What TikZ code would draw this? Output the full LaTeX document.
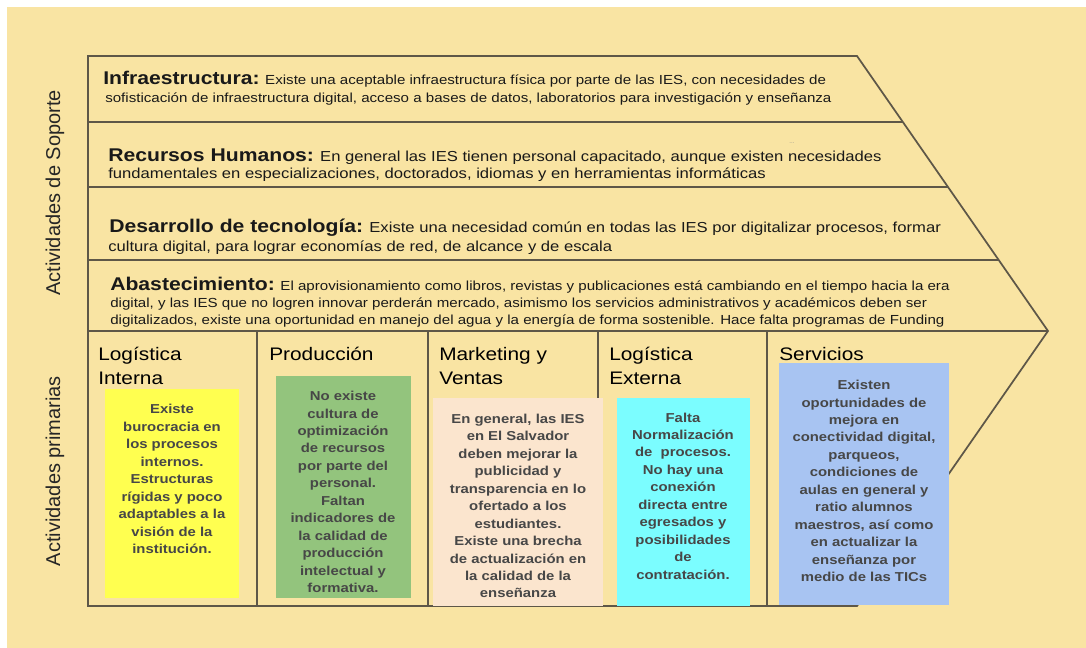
\documentclass[tikz,border=0pt]{standalone}
\usepackage{fontspec}
\setmainfont{Liberation Sans}[FakeStretch=1.15]
\newfontfamily\plainsans{Liberation Sans}
\definecolor{bgyellow}{HTML}{F9E4A3}
\definecolor{linec}{HTML}{5E5748}
\definecolor{boxtext}{HTML}{474747}
\definecolor{noteyellow}{HTML}{FFFF50}
\definecolor{notegreen}{HTML}{93C47D}
\definecolor{notepeach}{HTML}{FBE5CE}
\definecolor{notecyan}{HTML}{7BFDFF}
\definecolor{noteblue}{HTML}{A8C4F2}
\newcommand\rowtitle[1]{{\bfseries\fontsize{13.8}{16}\selectfont #1}}
\tikzset{
  outline/.style={draw=linec, line width=1.3pt, line join=miter},
  rowtext/.style={anchor=base west, inner sep=0pt, text=black!90},
  rowA/.style={rowtext, font=\fontsize{9.85}{11}\selectfont},
  rowB/.style={rowtext, font=\fontsize{10.85}{12}\selectfont},
  rowC/.style={rowtext, font=\fontsize{10.85}{12}\selectfont},
  rowD/.style={rowtext, font=\fontsize{9.85}{11}\selectfont},
  colhead/.style={anchor=base west, inner sep=0pt, text=black, font=\fontsize{13.6}{16}\selectfont},
  sidelabel/.style={rotate=90, inner sep=0pt, text=black!85, font=\plainsans\fontsize{15}{18}\selectfont},
  notetext/.style={inner sep=0pt, align=center, text=boxtext, font=\bfseries\fontsize{9.7}{13.1}\selectfont}
}
\begin{document}
\begin{tikzpicture}[x=0.75pt,y=-0.75pt]
\useasboundingbox (0,0) rectangle (1086,648);
\fill[white] (0,0) rectangle (1086,648);
\fill[bgyellow] (7,7) rectangle (1086,648);

% chevron outline
\draw[outline] (88,56) -- (857,56) -- (1048,331) -- (857,606) -- (88,606) -- cycle;
\draw[outline] (88,122) -- (903,122);
\draw[outline] (88,187) -- (948,187);
\draw[outline] (88,260) -- (999,260);
\draw[outline] (88,331) -- (1048,331);
\foreach \xx in {257,428,598,767} \draw[outline] (\xx,331) -- (\xx,606);

% support rows
\node[rowA] (inf1) at (103,85) {\rowtitle{Infraestructura:} Existe una aceptable infraestructura física por parte de las IES, con necesidades de};
\node[rowA] (inf2) at (105,103) {sofisticación de infraestructura digital, acceso a bases de datos, laboratorios para investigación y enseñanza};

\node[rowB] (rh1) at (108,162) {\rowtitle{Recursos Humanos:} En general las IES tienen personal capacitado, aunque existen necesidades};
\node[rowB] (rh2) at (108,179) {fundamentales en especializaciones, doctorados, idiomas y en herramientas informáticas};
\node[inner sep=0pt, text=black!45, font=\fontsize{4}{5}\selectfont] (dots) at (792,143) {...};

\node[rowC] (dt1) at (109,233) {\rowtitle{Desarrollo de tecnología:} Existe una necesidad común en todas las IES por digitalizar procesos, formar};
\node[rowC] (dt2) at (108,252) {cultura digital, para lograr economías de red, de alcance y de escala};

\node[rowD] (ab1) at (110,291) {\rowtitle{Abastecimiento:} El aprovisionamiento como libros, revistas y publicaciones está cambiando en el tiempo hacia la era};
\node[rowD] (ab2) at (110,308) {digital, y las IES que no logren innovar perderán mercado, asimismo los servicios administrativos y académicos deben ser};
\node[rowD] (ab3) at (110,325) {digitalizados, existe una oportunidad en manejo del agua y la energía de forma sostenible. Hace falta programas de Funding};

% side labels
\node[sidelabel] (soporte) at (55,193) {Actividades de Soporte};
\node[sidelabel] (primarias) at (55,471) {Actividades primarias};

% column headers
\node[colhead] (h1a) at (98,361) {Logística};
\node[colhead] (h1b) at (98,385) {Interna};
\node[colhead] (h2) at (269,361) {Producción};
\node[colhead] (h3a) at (439,361) {Marketing y};
\node[colhead] (h3b) at (439,385) {Ventas};
\node[colhead] (h4a) at (609,361) {Logística};
\node[colhead] (h4b) at (609,385) {Externa};
\node[colhead] (h5) at (779,361) {Servicios};

% notes
\fill[noteyellow] (105,389) rectangle (239,598);
\node[notetext] (n1) at (172,479) {Existe\\burocracia en\\los procesos\\internos.\\Estructuras\\rígidas y poco\\adaptables a la\\visión de la\\institución.};

\fill[notegreen] (276,376) rectangle (411,598);
\node[notetext] (n2) at (343,492) {No existe\\cultura de\\optimización\\de recursos\\por parte del\\personal.\\Faltan\\indicadores de\\la calidad de\\producción\\intelectual y\\formativa.};

\fill[notepeach] (433,398) rectangle (603,606);
\node[notetext] (n3) at (518,506) {En general, las IES\\en El Salvador\\deben mejorar la\\publicidad y\\transparencia en lo\\ofertado a los\\estudiantes.\\Existe una brecha\\de actualización en\\la calidad de la\\enseñanza};

\fill[notecyan] (617,398) rectangle (750,606);
\node[notetext] (n4) at (683,496) {Falta\\Normalización\\de\ \ procesos.\\No hay una\\conexión\\directa entre\\egresados y\\posibilidades\\de\\contratación.};

\fill[noteblue] (779,363) rectangle (949,605);
\node[notetext] (n5) at (864,481) {Existen\\oportunidades de\\mejora en\\conectividad digital,\\parqueos,\\condiciones de\\aulas en general y\\ratio alumnos\\maestros, así como\\en actualizar la\\enseñanza por\\medio de las TICs};
\end{tikzpicture}
\end{document}
